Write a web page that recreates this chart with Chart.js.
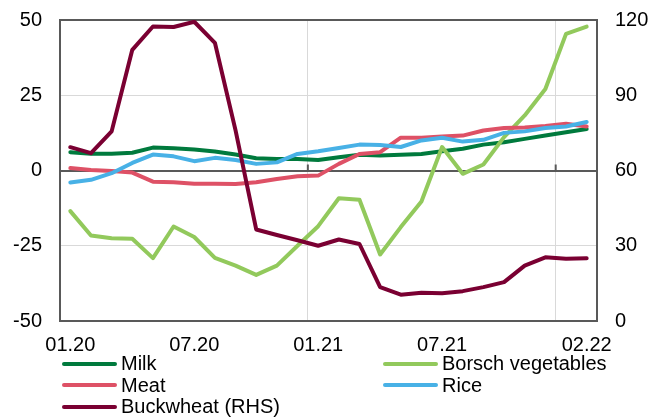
<!DOCTYPE html>
<html>
<head>
<meta charset="utf-8">
<script src="https://cdn.jsdelivr.net/npm/chart.js@4.4.1/dist/chart.umd.min.js"></script>
<style>
  html, body { margin: 0; padding: 0; background: #fff; }
  #wrap { position: relative; width: 649px; height: 417px; overflow: hidden; }
  #c { position: absolute; left: 0; top: 0; }
  #legend {
    position: absolute; left: 62px; top: 353px;
    display: grid; grid-template-columns: 321px auto;
    font-family: 'Liberation Sans', Arial, sans-serif; font-size: 20px;
    line-height: 21.5px; color: #000;
  }
  .item { display: flex; align-items: center; height: 21.5px; white-space: nowrap; }
  .sw { display: inline-block; width: 55px; height: 4px; border-radius: 2px; margin-right: 4px; }
</style>
</head>
<body>
<div id="wrap">
  <canvas id="c" width="649" height="417"></canvas>
  <div id="legend"></div>
</div>
<script>
// ---- data ----
const months = ['01.20','02.20','03.20','04.20','05.20','06.20','07.20','08.20','09.20','10.20','11.20','12.20',
                '01.21','02.21','03.21','04.21','05.21','06.21','07.21','08.21','09.21','10.21','11.21','12.21',
                '01.22','02.22'];
const labelIndices = [0, 6, 12, 18, 25];
const yearStartIndices = [12, 24];

const milk   = [6.1, 5.6, 5.6, 5.9, 7.6, 7.4, 7.0, 6.3, 5.3, 4.1, 3.8, 3.8, 3.5, 4.4, 5.2, 5.0, 5.2, 5.5, 6.4, 7.2, 8.6, 9.4, 10.5, 11.6, 12.7, 13.8];
const borsch = [-13.5, -21.6, -22.5, -22.7, -29.1, -18.6, -22.1, -29.0, -31.6, -34.7, -31.6, -25.0, -18.5, -9.2, -9.7, -27.9, -18.8, -10.3, 7.8, -1.1, 2.0, 11.1, 18.3, 27.1, 45.4, 47.8];
const meat   = [0.8, 0.2, -0.2, -0.7, -3.7, -3.9, -4.4, -4.4, -4.5, -3.9, -2.8, -1.9, -1.7, 2.2, 5.5, 6.1, 10.9, 10.9, 11.3, 11.6, 13.3, 14.1, 14.3, 14.8, 15.5, 14.6];
const rice   = [-4.0, -3.1, -0.9, 2.5, 5.3, 4.7, 3.1, 4.2, 3.5, 2.2, 2.7, 5.5, 6.4, 7.5, 8.6, 8.5, 7.8, 10.0, 10.9, 9.6, 10.2, 12.5, 13.0, 14.1, 14.6, 16.1];
const buckwheat = [69.3, 66.9, 75.6, 108.1, 117.4, 117.2, 119.3, 110.9, 76.0, 36.5, 34.3, 32.2, 30.0, 32.5, 30.7, 13.5, 10.5, 11.3, 11.1, 11.9, 13.5, 15.5, 22.1, 25.4, 24.8, 25.0];

const leftTicks = [-50, -25, 0, 25, 50];
const rightTicks = [0, 30, 60, 90, 120];

// ---- chart ----
Chart.defaults.font.family = "'Liberation Sans', Arial, sans-serif";
Chart.defaults.font.size = 20;
Chart.defaults.color = '#000';

const AXIS = '#595959';
const GRID = '#d9d9d9';

function ds(label, data, color, axis, order) {
  return { label, data, borderColor: color, backgroundColor: color, yAxisID: axis, order,
           borderWidth: 4, pointRadius: 0, pointHoverRadius: 0, tension: 0,
           borderJoinStyle: 'round', borderCapStyle: 'round', fill: false };
}

const zeroTicks = {
  id: 'zeroTicks',
  beforeDatasetsDraw(chart) {
    const x = chart.scales.x, y = chart.scales.y, ctx = chart.ctx;
    const y0 = y.getPixelForValue(0);
    ctx.save();
    ctx.strokeStyle = AXIS; ctx.lineWidth = 2;
    yearStartIndices.forEach(i => {
      const px = (x.getPixelForTick(i) + x.getPixelForTick(i - 1)) / 2;
      ctx.beginPath(); ctx.moveTo(px, y0 - 6); ctx.lineTo(px, y0); ctx.stroke();
    });
    ctx.restore();
  }
};

const chart = new Chart(document.getElementById('c'), {
  type: 'line',
  data: {
    labels: months,
    datasets: [
      ds('Milk', milk, '#007A3D', 'y', 4),
      ds('Borsch vegetables', borsch, '#92C95C', 'y', 3),
      ds('Meat', meat, '#DE5166', 'y', 2),
      ds('Rice', rice, '#48B1E6', 'y', 1),
      ds('Buckwheat (RHS)', buckwheat, '#7A0032', 'y1', 0)
    ]
  },
  plugins: [zeroTicks],
  options: {
    responsive: false,
    animation: false,
    layout: { padding: { top: 20, left: 0, right: 0, bottom: 0 } },
    plugins: { legend: { display: false }, tooltip: { enabled: false } },
    scales: {
      x: {
        type: 'category',
        offset: true,
        afterFit: s => { s.height = 96; s.paddingLeft = 0; s.paddingRight = 0; },
        border: { display: true, color: AXIS, width: 2 },
        grid: {
          offset: true, drawTicks: false,
          color: c => (c.index !== undefined && yearStartIndices.includes(c.index)) ? GRID : 'rgba(0,0,0,0)',
          lineWidth: 1
        },
        ticks: {
          autoSkip: false, maxRotation: 0, minRotation: 0, padding: 12,
          callback: (v, i) => labelIndices.includes(i) ? months[i] : ''
        }
      },
      y: {
        position: 'left', min: -50, max: 50,
        afterFit: s => { s.width = 60; s.paddingTop = 0; s.paddingBottom = 0; },
        afterBuildTicks: s => { s.ticks = leftTicks.map(v => ({ value: v })); },
        border: { display: true, color: AXIS, width: 2 },
        grid: {
          drawTicks: false,
          color: c => (c.tick && (c.tick.value === 0 || c.tick.value === 50)) ? AXIS : GRID,
          lineWidth: c => (c.tick && (c.tick.value === 0 || c.tick.value === 50)) ? 2 : 1
        },
        ticks: { padding: 18 }
      },
      y1: {
        position: 'right', min: 0, max: 120,
        afterFit: s => { s.width = 52; s.paddingTop = 0; s.paddingBottom = 0; },
        afterBuildTicks: s => { s.ticks = rightTicks.map(v => ({ value: v })); },
        border: { display: true, color: AXIS, width: 2 },
        grid: { drawOnChartArea: false, drawTicks: false },
        ticks: { padding: 18 }
      }
    }
  }
});

// ---- HTML legend built from chart datasets ----
const legendEl = document.getElementById('legend');
chart.data.datasets.forEach(d => {
  const item = document.createElement('div'); item.className = 'item';
  const sw = document.createElement('span'); sw.className = 'sw'; sw.style.background = d.borderColor;
  const tx = document.createElement('span'); tx.textContent = d.label;
  item.append(sw, tx); legendEl.append(item);
});
</script>
</body>
</html>
